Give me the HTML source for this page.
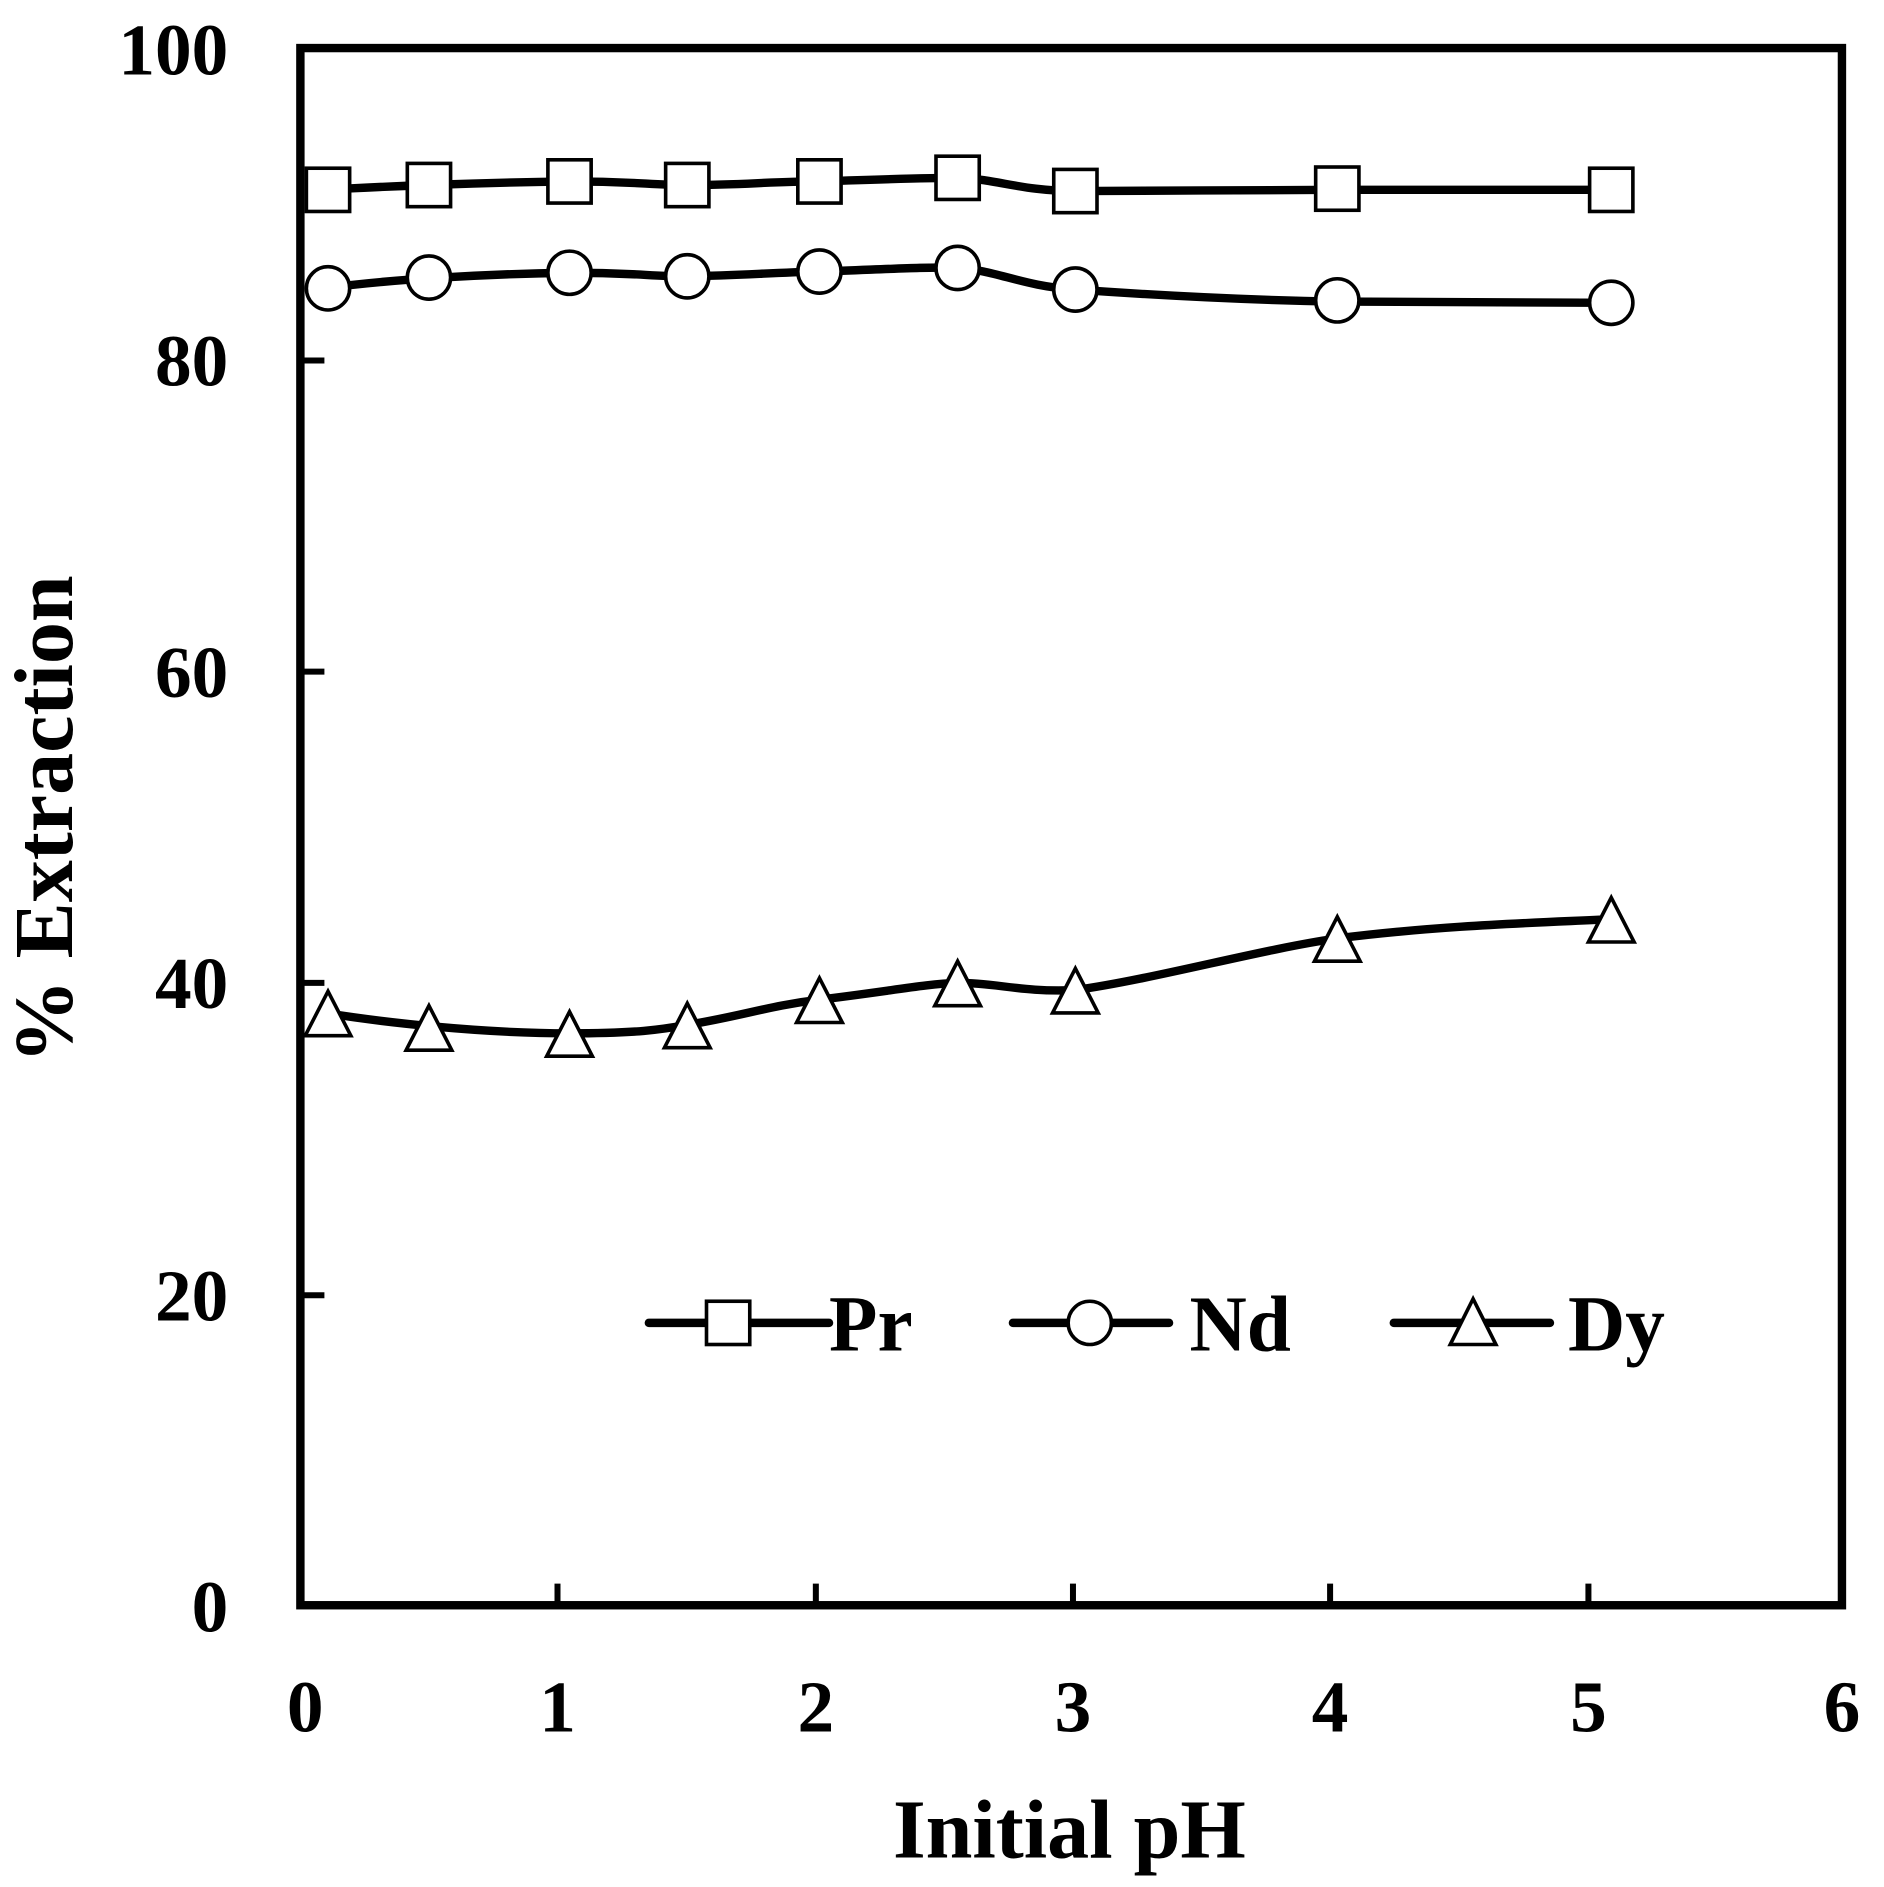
<!DOCTYPE html>
<html><head><style>html,body{margin:0;padding:0;background:#fff}svg{display:block}</style></head>
<body>
<svg width="1884" height="1887" viewBox="0 0 1568 1570.5" preserveAspectRatio="none" xmlns="http://www.w3.org/2000/svg" font-family="Liberation Serif, serif" font-weight="bold">
<rect x="250" y="40" width="1283" height="1296" fill="none" stroke="#000" stroke-width="7"/>
<g stroke="#000" stroke-width="5">
<line x1="250" y1="300" x2="270" y2="300"/><line x1="250" y1="559" x2="270" y2="559"/><line x1="250" y1="818" x2="270" y2="818"/><line x1="250" y1="1078" x2="270" y2="1078"/>
<line x1="464" y1="1336" x2="464" y2="1318"/><line x1="679" y1="1336" x2="679" y2="1318"/><line x1="893" y1="1336" x2="893" y2="1318"/><line x1="1107" y1="1336" x2="1107" y2="1318"/><line x1="1322" y1="1336" x2="1322" y2="1318"/>
</g>
<g font-size="61" text-anchor="end" textLength="96">
<text x="190" y="62">100</text><text x="190" y="321">80</text><text x="190" y="580">60</text><text x="190" y="839">40</text><text x="190" y="1099">20</text><text x="190" y="1358">0</text>
</g>
<g font-size="61" text-anchor="middle">
<text x="254" y="1441">0</text><text x="464" y="1441">1</text><text x="679" y="1441">2</text><text x="893" y="1441">3</text><text x="1107" y="1441">4</text><text x="1322" y="1441">5</text><text x="1533" y="1441">6</text>
</g>
<text x="890" y="1546" font-size="70" text-anchor="middle">Initial pH</text>
<text transform="translate(60,682) rotate(-90)" font-size="70" text-anchor="middle">% Extraction</text>
<g fill="none" stroke="#000" stroke-width="7" stroke-linejoin="round" stroke-linecap="round">
<path d="M270,158 C320,155 400,152 474,151 C530,151 540,154 572,154 C620,154 640,151 682,151 C740,149 770,148 797,148 C830,149 850,159 895,159 C960,159 1050,158 1113,158 L1341,158"/>
<path d="M270,240 C320,233 400,228 474,227 C530,227 540,230 572,230 C620,229 640,227 682,226 C740,224 770,222 797,223 C830,225 850,238 895,241 C980,247 1050,250 1113,251 L1341,252"/>
<path d="M270,843 C320,851 400,860 474,860 C530,860 550,857 572,853 C620,845 640,837 682,832 C740,825 770,819 797,818 C830,818 850,826 895,824 C960,815 1050,790 1113,781 C1200,770 1280,768 1341,765"/>
<line x1="540" y1="1101" x2="690" y2="1101"/><line x1="843" y1="1101" x2="973" y2="1101"/><line x1="1160" y1="1101" x2="1290" y2="1101"/>
</g>
<g fill="#fff" stroke="#000" stroke-width="3">
<rect x="255" y="140" width="36" height="36"/><rect x="339" y="136" width="36" height="36"/><rect x="456" y="133" width="36" height="36"/><rect x="554" y="136" width="36" height="36"/><rect x="664" y="133" width="36" height="36"/><rect x="779" y="130" width="36" height="36"/><rect x="877" y="141" width="36" height="36"/><rect x="1095" y="139" width="36" height="36"/><rect x="1323" y="140" width="36" height="36"/>
<rect x="588" y="1083" width="36" height="36"/>
<circle cx="273" cy="240" r="18"/><circle cx="357" cy="231" r="18"/><circle cx="474" cy="227" r="18"/><circle cx="572" cy="230" r="18"/><circle cx="682" cy="226" r="18"/><circle cx="797" cy="223" r="18"/><circle cx="895" cy="241" r="18"/><circle cx="1113" cy="250" r="18"/><circle cx="1341" cy="252" r="18"/>
<circle cx="907" cy="1101" r="18"/>
<path d="M273,825 L292,862 L254,862 Z"/><path d="M357,837 L376,874 L338,874 Z"/><path d="M474,842 L493,879 L455,879 Z"/><path d="M572,835 L591,872 L553,872 Z"/><path d="M682,814 L701,851 L663,851 Z"/><path d="M797,800 L816,837 L778,837 Z"/><path d="M895,806 L914,843 L876,843 Z"/><path d="M1113,763 L1132,800 L1094,800 Z"/><path d="M1341,747 L1360,784 L1322,784 Z"/>
<path d="M1226,1081 L1245,1119 L1207,1119 Z"/>
</g>
<g font-size="66">
<text x="690" y="1124">Pr</text><text x="990" y="1124">Nd</text><text x="1305" y="1124">Dy</text>
</g>
</svg>
</body></html>
